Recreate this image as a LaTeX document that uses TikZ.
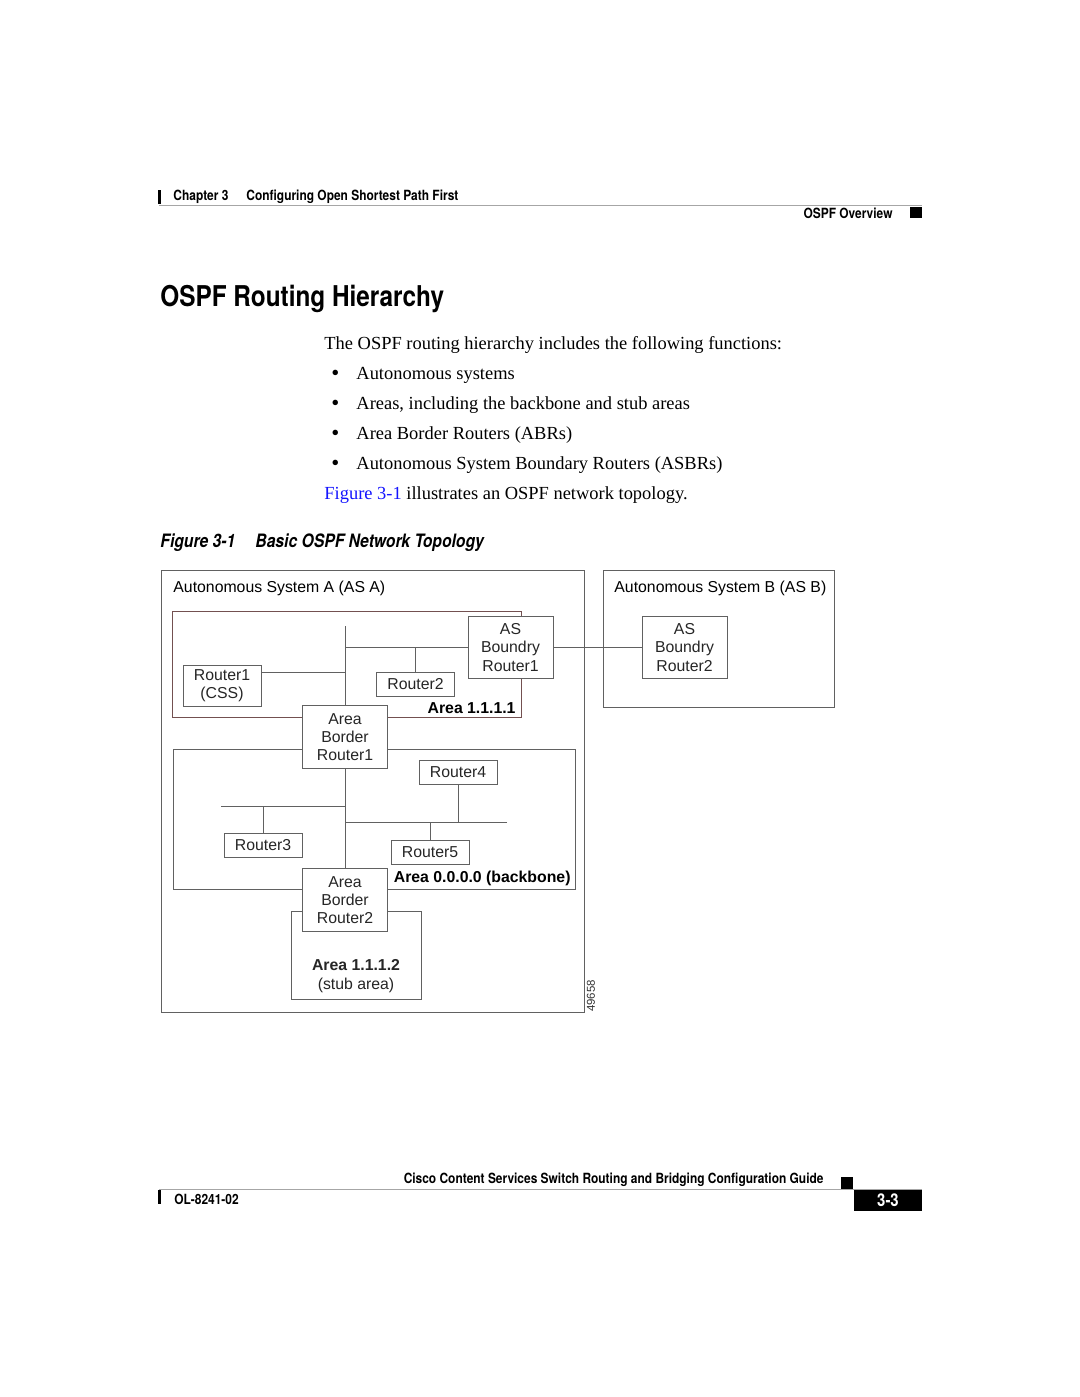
\documentclass[tikz,border=0pt]{standalone}
\usepackage{fontspec}
\setmainfont{Liberation Serif}
\newfontfamily\diagfont{Liberation Sans}
\newfontfamily\condfont{TeX Gyre Heros}[FakeStretch=0.85]
\usetikzlibrary{positioning}

\definecolor{linegray}{gray}{0.38}
\definecolor{rulegray}{gray}{0.65}
\definecolor{areared}{RGB}{115,80,80}
\definecolor{linkblue}{RGB}{20,20,255}

\tikzset{
  router/.style={draw=linegray, fill=white, align=center, inner sep=0pt,
    font={\diagfont\fontsize{9}{10.4}\selectfont}, text=black!85},
  smallrouter/.style={router, minimum width=15.6mm, minimum height=4.8mm},
  bigrouter/.style={router, minimum width=17mm, minimum height=12.5mm},
  arealabel/.style={inner sep=0pt, font={\diagfont\bfseries\fontsize{9}{10.4}\selectfont}},
  aslabel/.style={inner sep=0pt, anchor=west, font={\diagfont\fontsize{9}{10.4}\selectfont}},
  headtext/.style={inner sep=0pt, anchor=base west, font={\condfont\bfseries\fontsize{8}{9}\selectfont}},
  bodytext/.style={inner sep=0pt, anchor=base west, font={\fontsize{10.5}{12}\selectfont}}
}

\begin{document}
\begin{tikzpicture}[x=0.2mm, y=-0.2mm, line width=0.5pt]
  \useasboundingbox (0,0) rectangle (1080,1397);
  \fill[white] (0,0) rectangle (1080,1397);

  % page header
  \fill (158,190) rectangle (160.5,204);
  \draw[rulegray] (159,205) -- (922,205);
  \node[headtext] (chap) at (173,200) {Chapter 3};
  \node[headtext] (chaptitle) at (246,200) {Configuring Open Shortest Path First};
  \node[headtext, anchor=base east] (section) at (893,218) {OSPF Overview};
  \fill (910,207) rectangle (922,218);

  % heading and body text
  \node[inner sep=0pt, anchor=base west, font={\condfont\bfseries\fontsize{16.3}{18}\selectfont}]
    (heading) at (160,306) {OSPF Routing Hierarchy};
  \node[bodytext] (intro) at (324,349) {The OSPF routing hierarchy includes the following functions:};
  \foreach \txt [count=\i] in {Autonomous systems,
      {Areas, including the backbone and stub areas},
      Area Border Routers (ABRs),
      Autonomous System Boundary Routers (ASBRs)} {
    \node[bodytext, font={\fontsize{13}{12}\selectfont}] (dot\i) at (331,350+30*\i) {\textbullet};
    \node[bodytext] (item\i) at (356,349+30*\i) {\txt};
  }
  \node[bodytext] (figref) at (324,499) {{\color{linkblue}Figure 3-1} illustrates an OSPF network topology.};

  % figure caption
  \node[headtext, font={\condfont\bfseries\itshape\fontsize{10.5}{12}\selectfont}] (fignum) at (160,547) {Figure 3-1};
  \node[headtext, font={\condfont\bfseries\itshape\fontsize{10.5}{12}\selectfont}] (figtitle) at (255,547) {Basic OSPF Network Topology};

  % systems and areas
  \draw[linegray] (161,570) rectangle (584,1012);
  \draw[linegray] (603,570) rectangle (834,707);
  \draw[areared] (172,611) rectangle (521,717);
  \draw[linegray] (173,749) rectangle (575,889);
  \draw[linegray] (291,911) rectangle (421,999);
  \node[aslabel] (asAname) at (173,588.5) {Autonomous System A (AS A)};
  \node[aslabel] (asBname) at (614,588.5) {Autonomous System B (AS B)};

  % routers
  \node[bigrouter] (asbrA) at (510.5,647.5) {AS\\Boundry\\Router1};
  \node[bigrouter] (asbrB) at (684.5,647.5) {AS\\Boundry\\Router2};
  \node[router, minimum width=15.6mm, minimum height=8.2mm] (rtrOne) at (222,685.5) {Router1\\(CSS)};
  \node[smallrouter] (rtrTwo) at (415.5,684) {Router2};
  \node[bigrouter] (abrOne) at (345,737) {Area\\Border\\Router1};
  \node[smallrouter] (rtrFour) at (458,772) {Router4};
  \node[smallrouter] (rtrThree) at (263,845) {Router3};
  \node[smallrouter] (rtrFive) at (430,852.5) {Router5};
  \node[bigrouter] (abrTwo) at (345,900) {Area\\Border\\Router2};

  \node[arealabel, anchor=east] (areaOne) at (516,708) {Area 1.1.1.1};
  \node[arealabel, anchor=east] (areaZero) at (571,878) {Area 0.0.0.0 (backbone)};
  \node[router, draw=none, fill=none] (areaStub) at (356,976) {\textbf{Area 1.1.1.2}\\(stub area)};
  \node[inner sep=0pt, rotate=90, font={\diagfont\fontsize{6.5}{7}\selectfont}, text=black!80] (artno) at (591,996) {49658};

  % links
  \coordinate (busTop) at (345,626);
  \coordinate (tapOne) at (345,672);
  \coordinate (bbLeft) at (221,806);
  \coordinate (bbRight) at (507,822);
  \begin{scope}[draw=linegray]
    \draw (busTop) -- (abrOne.north);
    \draw (asbrA.west) -- (asbrA.west -| busTop);
    \draw (rtrTwo.north) -- (rtrTwo.north |- asbrA.west);
    \draw (rtrOne.east |- tapOne) -- (tapOne);
    \draw (asbrA.east) -- (asbrB.west);
    \draw (abrOne.south) -- (abrTwo.north);
    \draw (bbLeft) -- (bbLeft -| abrOne.south);
    \draw (rtrThree.north) -- (rtrThree.north |- bbLeft);
    \draw (bbRight) -- (bbRight -| abrOne.south);
    \draw (rtrFour.south) -- (rtrFour.south |- bbRight);
    \draw (rtrFive.north) -- (rtrFive.north |- bbRight);
  \end{scope}

  % page footer
  \node[headtext, anchor=base east] (guide) at (824,1183) {Cisco Content Services Switch Routing and Bridging Configuration Guide};
  \fill (841,1177) rectangle (853,1189);
  \draw[rulegray] (159,1189) -- (922,1189);
  \fill (158,1190) rectangle (160.5,1204);
  \node[headtext] (docnum) at (174,1204) {OL-8241-02};
  \fill (854,1190) rectangle (922,1211);
  \node[headtext, anchor=center, text=white, font={\condfont\bfseries\fontsize{10}{12}\selectfont}] (pageno) at (888,1200.5) {3-3};
\end{tikzpicture}
\end{document}
